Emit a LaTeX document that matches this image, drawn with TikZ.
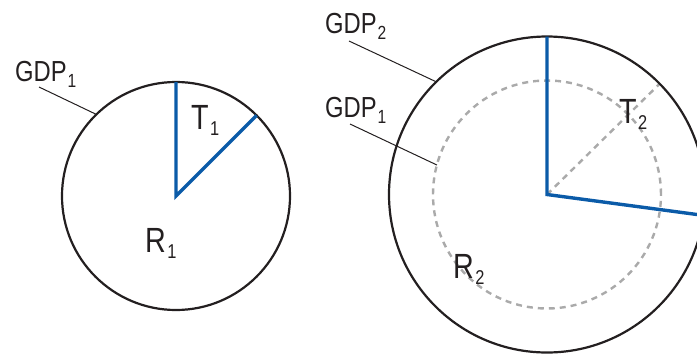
\documentclass[tikz,border=0pt]{standalone}
\usepackage{fontspec}
\setmainfont{Liberation Sans}[FakeStretch=0.82]
\usetikzlibrary{calc}
\definecolor{circ}{HTML}{231F20}
\definecolor{blueline}{HTML}{0B5BA8}
\definecolor{dashgray}{HTML}{AAAAAA}
\newcommand\biglab[2]{{\fontsize{35}{35}\selectfont #1\hspace{1.5pt}\raisebox{-6pt}{\fontsize{20}{20}\selectfont #2}}}
\newcommand\gdplab[1]{{\fontsize{29}{29}\selectfont GDP\hspace{1pt}\raisebox{-6pt}{\fontsize{19}{19}\selectfont #1}}}
\begin{document}
\begin{tikzpicture}[x=1pt,y=-1pt,
  circline/.style={draw=circ,line width=2.2pt},
  blueseg/.style={draw=blueline,line width=3.4pt,line join=miter},
  dashline/.style={draw=dashgray,line width=2.4pt,dash pattern=on 6pt off 5pt},
  leader/.style={draw=circ,line width=1pt},
  lab/.style={anchor=base west,inner sep=0pt,text=circ}]
\useasboundingbox (0,0) rectangle (697,354);
\clip (0,0) rectangle (697,354);
\coordinate (c1) at (176,196);
\coordinate (c2) at (547,194.5);
% left pie
\draw[circline] (c1) circle[radius=114pt];
\coordinate (t1top) at ($(c1)+(90:114pt)$);
\coordinate (t1end) at ($(c1)+(45:114pt)$);
\draw[blueseg] (t1top) -- (c1) -- (t1end);
% right pie
\draw[dashline] (c2) circle[radius=114pt];
\coordinate (t2dash) at ($(c2)+(44.5:157pt)$);
\draw[dashline] (c2) -- (t2dash);
\draw[circline] (c2) circle[radius=158pt];
\coordinate (t2top) at ($(c2)+(90:158pt)$);
\coordinate (t2end) at ($(c2)+(-7.6:158pt)$);
\draw[blueseg] (t2top) -- (c2) -- (t2end);
% labels
\node[lab] (gdpa) at (15,81.5) {\gdplab{1}};
\node[lab] (gdpb) at (325,33) {\gdplab{2}};
\node[lab] (gdpc) at (325,117) {\gdplab{1}};
\node[lab] (t1) at (191,129) {\biglab{T}{1}};
\node[lab] (r1) at (145,252) {\biglab{R}{1}};
\node[lab] (r2) at (453,278) {\biglab{R}{2}};
\node[lab] (t2) at (619,123) {\biglab{T}{2}};
% leaders
\coordinate (la0) at (39,87);
\coordinate (la1) at ($(c1)+(134.3:114pt)$);
\draw[leader] (la0) -- (la1);
\coordinate (lb0) at (349,41);
\coordinate (lb1) at ($(c2)+(134.5:158pt)$);
\draw[leader] (lb0) -- (lb1);
\coordinate (lc0) at (350,124);
\coordinate (lc1) at ($(c2)+(165:114pt)$);
\draw[leader] (lc0) -- (lc1);
\end{tikzpicture}
\end{document}
